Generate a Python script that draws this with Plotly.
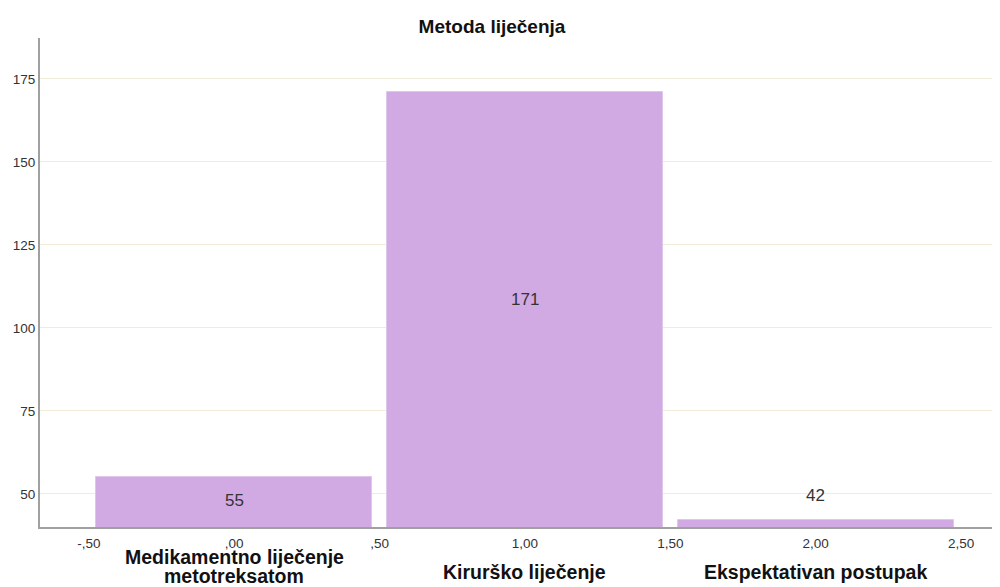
import plotly.graph_objects as go

title = "Metoda liječenja"
categories = ["Medikamentno liječenje<br>metotreksatom", "Kirurško liječenje", "Ekspektativan postupak"]
positions = [0, 1, 2]
counts = [55, 171, 42]
x_tickvals = [-0.5, 0, 0.5, 1.0, 1.5, 2.0, 2.5]
x_ticktext = ["-,50", ",00", ",50", "1,00", "1,50", "2,00", "2,50"]
y_tickvals = [50, 75, 100, 125, 150, 175]

Y_MIN, Y_MAX = 40, 187.3
BAR_COLOR = "#D1AAE4"
FONT = "Liberation Sans, Arial, sans-serif"

# page body has an 8px margin; compensate so the figure fills the 1000x587 view
W, H = 992, 579

fig = go.Figure()
fig.add_trace(go.Bar(
    x=positions, y=counts, width=0.95,
    marker=dict(color=BAR_COLOR, line=dict(color="#E0C6EC", width=1)),
    hoverinfo="skip",
))

annotations = []
# value labels
for xp, v in zip(positions, counts):
    if v - Y_MIN > 10:
        annotations.append(dict(x=xp, y=(Y_MIN + v) / 2, text=str(v), showarrow=False,
                                xref="x", yref="y", yanchor="middle",
                                yshift=min(11, (v - Y_MIN) * 0.08),
                                font=dict(size=17, color="#333333", family=FONT)))
    else:
        annotations.append(dict(x=xp, y=v, text=str(v), showarrow=False, xref="x", yref="y",
                                yanchor="middle", yshift=25,
                                font=dict(size=17, color="#333333", family=FONT)))
# category labels (one annotation per line for tight line spacing)
for xp, c in zip(positions, categories):
    lines = c.split("<br>")
    n = len(lines)
    for i, ln in enumerate(lines):
        annotations.append(dict(x=xp, y=0, yref="paper", xref="x", text="<b>" + ln + "</b>",
                                showarrow=False, yanchor="middle",
                                yshift=-(45 + 4 * (n - 1)) + 19 * (n - 1 - i),
                                font=dict(size=19.5, color="#111111", family=FONT)))

fig.update_layout(
    width=W, height=H,
    margin=dict(l=32, r=0, t=30, b=60),
    paper_bgcolor="white", plot_bgcolor="white",
    showlegend=False,
    bargap=0,
    title=dict(text="<b>" + title + "</b>", x=(492 - 8) / W, xanchor="center",
               y=1 - 18 / H, yanchor="middle",
               font=dict(size=19, color="#111111", family=FONT)),
    xaxis=dict(range=[-0.668, 2.634], tickvals=x_tickvals, ticktext=x_ticktext,
               showgrid=False, zeroline=False, showline=True, linecolor="#A0A0A0", linewidth=2,
               ticks="", ticklabelstandoff=3,
               tickfont=dict(size=13.5, color="#333333", family=FONT)),
    yaxis=dict(range=[Y_MIN, Y_MAX], tickvals=y_tickvals,
               showgrid=True, gridcolor="#F1ECDA", gridwidth=1, zeroline=False,
               showline=True, linecolor="#A0A0A0", linewidth=2, ticks="",
               tickfont=dict(size=13.5, color="#333333", family=FONT)),
    annotations=annotations,
)

fig.write_html("out.html")
